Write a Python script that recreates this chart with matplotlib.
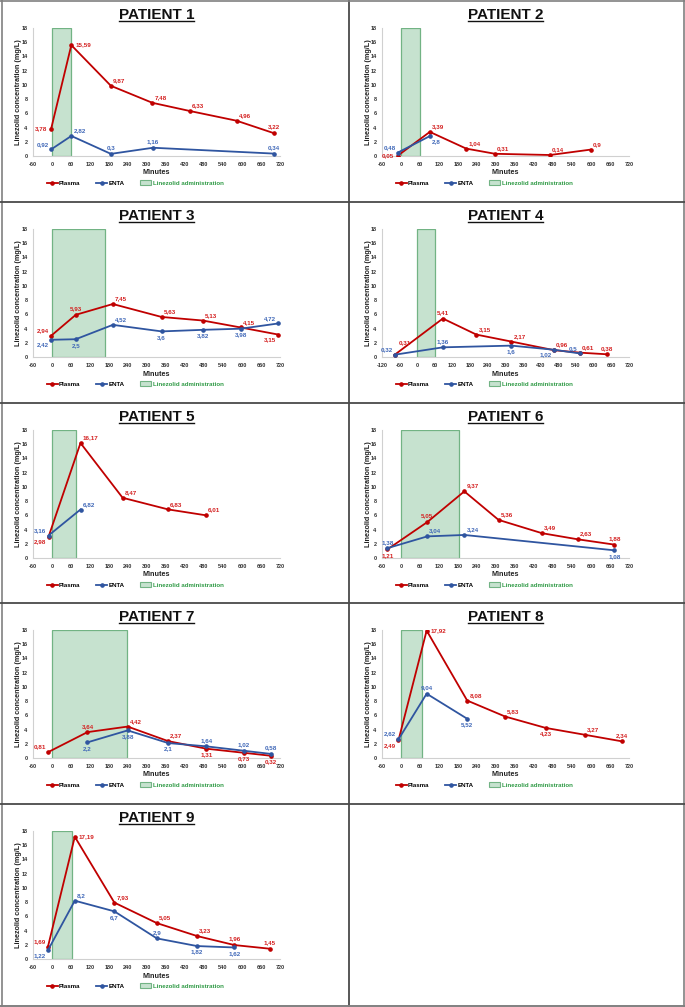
import matplotlib
matplotlib.use('Agg')
from matplotlib import pyplot as plt
from matplotlib.lines import Line2D
from matplotlib.patches import Patch

plt.rcParams['font.family'] = ['Liberation Sans', 'DejaVu Sans']
plt.rcParams['font.weight'] = 'bold'
plt.rcParams['axes.unicode_minus'] = False

# ---- data (minutes, mg/L) ----
patients = ['PATIENT 1', 'PATIENT 2', 'PATIENT 3', 'PATIENT 4', 'PATIENT 5',
            'PATIENT 6', 'PATIENT 7', 'PATIENT 8', 'PATIENT 9']

plasma_t = [
    [-3, 61, 186, 317, 435, 583, 700],
    [-10, 91, 206, 297, 471, 599],
    [-4, 75, 192, 346, 476, 596, 715],
    [-77, 87, 201, 320, 465, 553, 646],
    [-11, 90, 223, 367, 485],
    [-43, 83, 200, 308, 445, 558, 674],
    [-13, 112, 239, 367, 487, 606, 690],
    [-8, 81, 209, 329, 457, 580, 698],
    [-13, 72, 197, 331, 458, 576, 687],
]
plasma_c = [
    [3.78, 15.59, 9.87, 7.48, 6.33, 4.96, 3.22],
    [0.05, 3.39, 1.04, 0.31, 0.14, 0.9],
    [2.94, 5.93, 7.45, 5.63, 5.13, 4.15, 3.15],
    [0.31, 5.41, 3.15, 2.17, 0.96, 0.61, 0.38],
    [2.98, 16.17, 8.47, 6.83, 6.01],
    [1.21, 5.05, 9.37, 5.36, 3.49, 2.63, 1.88],
    [0.81, 3.64, 4.42, 2.37, 1.31, 0.73, 0.32],
    [2.49, 17.92, 8.08, 5.83, 4.23, 3.27, 2.34],
    [1.69, 17.19, 7.93, 5.05, 3.23, 1.96, 1.45],
]
enta_t = [
    [-3, 61, 186, 319, 700],
    [-10, 91],
    [-4, 75, 192, 346, 476, 596, 715],
    [-77, 87, 320, 465, 553],
    [-11, 90],
    [-43, 83, 200, 674],
    [112, 239, 367, 487, 606, 690],
    [-8, 81, 209],
    [-13, 72, 197, 331, 458, 576],
]
enta_c = [
    [0.92, 2.82, 0.3, 1.16, 0.34],
    [0.48, 2.8],
    [2.42, 2.5, 4.52, 3.6, 3.82, 3.98, 4.72],
    [0.32, 1.36, 1.6, 1.02, 0.5],
    [3.16, 6.82],
    [1.38, 3.04, 3.24, 1.08],
    [2.2, 3.88, 2.1, 1.64, 1.02, 0.58],
    [2.62, 9.04, 5.52],
    [1.22, 8.2, 6.7, 2.9, 1.82, 1.62],
]
# linezolid administration window (start, end) in minutes
admin_start = [0, 0, 0, 0, 0, 0, 0, 0, 0]
admin_end = [60, 60, 166, 60, 77, 182, 238, 65, 62]
x_min = [-60, -60, -60, -120, -60, -60, -60, -60, -60]

# ---- label placement codes (style only) ----
plasma_pos = [
    ['l', 'r', 'ar', 'ar', 'ar', 'ar', 'a'],
    ['l', 'ar', 'ar', 'ar', 'ar', 'ar'],
    ['al', 'a', 'ar', 'ar', 'ar', 'ar', 'bl'],
    ['ar2', 'a', 'ar', 'ar', 'ar', 'ar', 'a'],
    ['bl', 'ar', 'ar', 'ar', 'ar'],
    ['b', 'a', 'ar', 'ar', 'ar', 'ar', 'a'],
    ['al', 'a', 'ar', 'ar', 'b', 'b', 'b'],
    ['bl', 'r', 'ar', 'ar', 'b', 'ar', 'a'],
    ['al', 'r', 'ar', 'ar', 'ar', 'a', 'a'],
]
enta_pos = [
    ['al', 'ar', 'a', 'a', 'a'],
    ['al', 'br'],
    ['bl', 'b', 'ar', 'b', 'b', 'b', 'al'],
    ['al', 'a', 'b', 'bl', 'al'],
    ['al', 'ar'],
    ['a', 'ar', 'ar', 'b'],
    ['b', 'b', 'b', 'a', 'a', 'a'],
    ['al', 'a', 'b'],
    ['bl', 'ar', 'b', 'a', 'b', 'b'],
]
offsets = {
    'a': ((0, 2.5), 'center', 'bottom'),
    'b': ((0, -2.5), 'center', 'top'),
    'ar': ((1.5, 2), 'left', 'bottom'),
    'ar2': ((3, 7), 'left', 'bottom'),
    'al': ((-1.5, 2), 'right', 'bottom'),
    'bl': ((-1.5, -2), 'right', 'top'),
    'br': ((1.5, -2), 'left', 'top'),
    'r': ((3, 0), 'left', 'center'),
    'l': ((-3, 0), 'right', 'center'),
}

RED = '#c00000'
RED_TXT = '#d42020'
BLUE = '#2f55a0'
BLUE_TXT = '#4068b8'
GREEN_FILL = '#c6e2cf'
GREEN_EDGE = '#72b384'
GREEN_TXT = '#2f9a45'

W, H = 685, 1007
fig = plt.figure(figsize=(W / 100, H / 100), dpi=100)

col_x = [0, 349]
row_y = [1, 202, 403, 603, 804]


def fx(x):
    return x / W


def fy(y):
    return 1 - y / H


titles = []
for i, name in enumerate(patients):
    cx = col_x[i % 2]
    cy = row_y[i // 2]
    ax_l, ax_t, ax_w, ax_h = cx + 33, cy + 27, 247, 128
    ax = fig.add_axes([fx(ax_l), fy(ax_t + ax_h), ax_w / W, ax_h / H])

    ax.axvspan(admin_start[i], admin_end[i], ymin=0, ymax=1,
               facecolor=GREEN_FILL, edgecolor=GREEN_EDGE, lw=0.9, zorder=1)
    ax.plot(plasma_t[i], plasma_c[i], color=RED, lw=1.3, marker='o',
            ms=2.3, zorder=3)
    ax.plot(enta_t[i], enta_c[i], color=BLUE, lw=1.3, marker='o',
            ms=2.3, zorder=3)

    for t, c, p in zip(plasma_t[i], plasma_c[i], plasma_pos[i]):
        off, ha, va = offsets[p]
        ax.annotate(str(c).replace('.', ','), (t, c), xytext=off,
                    textcoords='offset points', ha=ha, va=va,
                    fontsize=4.5, color=RED_TXT, fontweight='bold', zorder=4)
    for t, c, p in zip(enta_t[i], enta_c[i], enta_pos[i]):
        off, ha, va = offsets[p]
        ax.annotate(str(c).replace('.', ','), (t, c), xytext=off,
                    textcoords='offset points', ha=ha, va=va,
                    fontsize=4.5, color=BLUE_TXT, fontweight='bold', zorder=4)

    ax.set_xlim(x_min[i], 720)
    ax.set_ylim(0, 18)
    ax.set_xticks(range(x_min[i], 721, 60))
    ax.set_yticks(range(0, 19, 2))
    ax.tick_params(length=0, labelsize=4, pad=4, colors='#333333')
    for lab in ax.get_xticklabels() + ax.get_yticklabels():
        lab.set_fontweight('bold')
    for s in ['top', 'right']:
        ax.spines[s].set_visible(False)
    for s in ['left', 'bottom']:
        ax.spines[s].set_color('#d0d0d0')
        ax.spines[s].set_linewidth(0.8)
    ax.patch.set_alpha(0)

    fig.text(fx(ax_l - 14), fy(ax_t + ax_h / 2), 'Linezolid concentration (mg/L)',
             rotation=90, ha='center', va='center', fontsize=5.2,
             fontweight='bold', color='#222222')
    fig.text(fx(ax_l + ax_w / 2), fy(cy + 172), 'Minutes', ha='center',
             va='center', fontsize=5.2, fontweight='bold', color='#222222')
    t = fig.text(fx(ax_l + ax_w / 2), fy(cy + 14), name, ha='center',
                 va='center', fontsize=11, fontweight='bold', color='#111111')
    titles.append(t)

    handles = [
        Line2D([], [], color=RED, lw=1.3, marker='o', ms=2.3),
        Line2D([], [], color=BLUE, lw=1.3, marker='o', ms=2.3),
        Patch(facecolor=GREEN_FILL, edgecolor=GREEN_EDGE, lw=0.8),
    ]
    leg = fig.legend(handles, ['Plasma', 'ENTA', 'Linezolid administration'],
                     loc='center', bbox_to_anchor=(fx(cx + 135), fy(cy + 182)),
                     ncol=3, frameon=False, fontsize=4.4, handlelength=1.8,
                     handletextpad=0.2, columnspacing=2.6, borderpad=0)
    for txt in leg.get_texts():
        txt.set_fontweight('bold')
    leg.get_texts()[2].set_color(GREEN_TXT)

# grid of cell borders
border = '#4a4a4a'
for x in [1.5, 683.5]:
    fig.add_artist(Line2D([fx(x), fx(x)], [fy(0), fy(H)], color='#808080', lw=1.2))
fig.add_artist(Line2D([fx(349), fx(349)], [fy(0), fy(H)], color=border, lw=1.3))
fig.add_artist(Line2D([0, 1], [fy(0.8), fy(0.8)], color='#808080', lw=1.2))
fig.add_artist(Line2D([0, 1], [fy(1006), fy(1006)], color='#808080', lw=1.4))
for y in [202, 403, 603, 804]:
    fig.add_artist(Line2D([0, 1], [fy(y), fy(y)], color=border, lw=1.3))

# underline the titles
fig.canvas.draw()
inv = fig.transFigure.inverted()
for t in titles:
    bb = t.get_window_extent()
    (x0, y0), (x1, _) = inv.transform([(bb.x0, bb.y0), (bb.x1, bb.y1)])
    fig.add_artist(Line2D([x0, x1], [y0 + 0.0005, y0 + 0.0005], color='#111111', lw=1.0))

fig.savefig('out.png', dpi=100)
